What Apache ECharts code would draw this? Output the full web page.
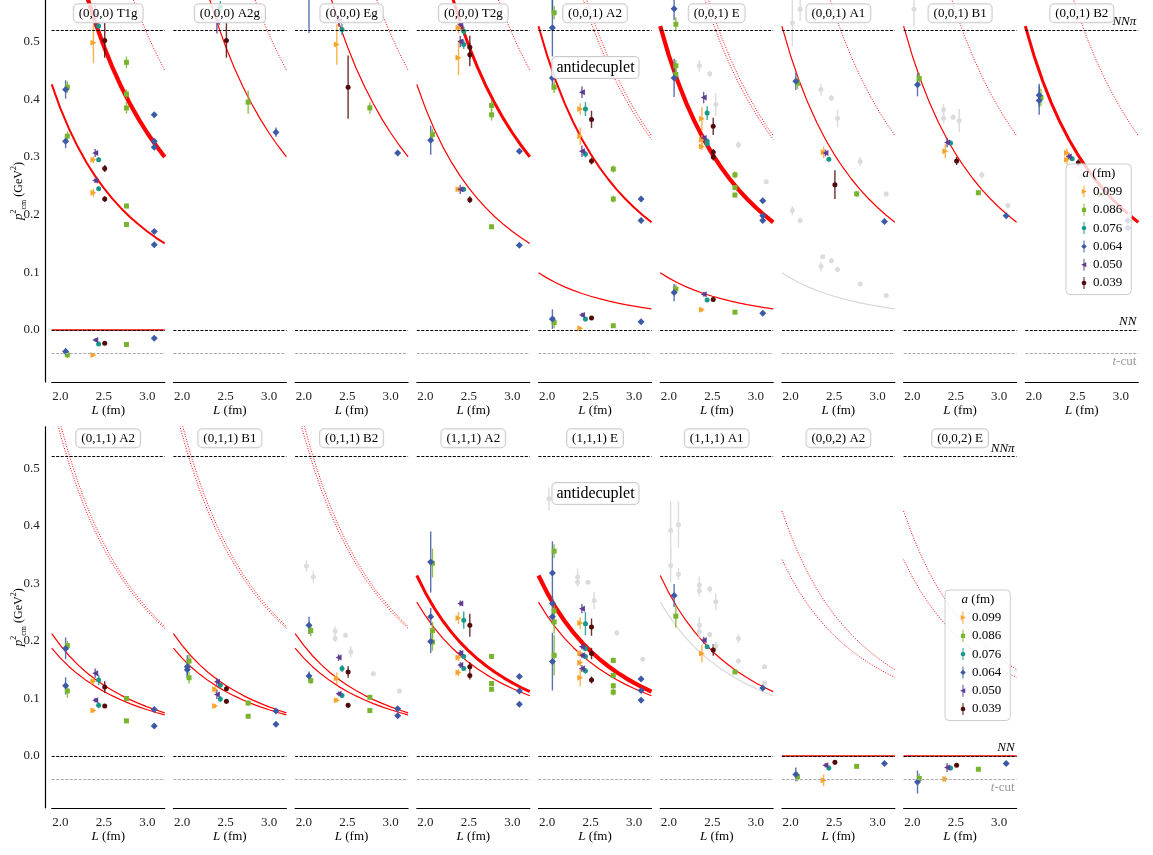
<!DOCTYPE html>
<html><head><meta charset="utf-8">
<script src="https://cdn.jsdelivr.net/npm/echarts@6/dist/echarts.min.js"></script>
<style>html,body{margin:0;padding:0;background:#fff}#c{width:1153px;height:855px}</style>
</head><body><div id="c"></div><script>
// ---------------- data ----------------
const A_LABELS = ['0.099','0.086','0.076','0.064','0.050','0.039'];
const X_TICKS = [2.0, 2.5, 3.0];
const Y_TICKS = [0.0, 0.1, 0.2, 0.3, 0.4, 0.5];
const NN_PI = 0.523, NN = 0.0, T_CUT = -0.042;
const X_RANGE = [1.9, 3.2];
const Y_RANGE = [-0.09, 0.572];

// curve sample positions L (fm)
const L_GRID = [1.9,2.0,2.1,2.2,2.3,2.4,2.5,2.6,2.7,2.8,2.9,3.0,3.1,3.2];
// non-interacting levels (GeV^2)
const Z0  = [0,0,0,0,0,0,0,0,0,0,0,0,0,0];
const R1  = [0.4257,0.3842,0.3485,0.3175,0.2905,0.2668,0.2459,0.2274,0.2108,0.1960,0.1828,0.1708,0.1599,0.1501];
const R2  = [0.8515,0.7685,0.6970,0.6351,0.5811,0.5337,0.4918,0.4547,0.4216,0.3921,0.3655,0.3415,0.3199,0.3001];
const R3  = [1.2772,1.1527,1.0455,0.9526,0.8716,0.8005,0.7377,0.6821,0.6325,0.5881,0.5483,0.5123,0.4798,0.4502];
const D1  = [0.0994,0.0900,0.0819,0.0749,0.0688,0.0634,0.0586,0.0544,0.0506,0.0472,0.0441,0.0414,0.0389,0.0366];
const D2  = [0.5266,0.4755,0.4315,0.3933,0.3601,0.3308,0.3050,0.2822,0.2618,0.2435,0.2271,0.2124,0.1990,0.1868];
const D3A = [0.9155,0.8278,0.7522,0.6866,0.6293,0.5790,0.5346,0.4951,0.4599,0.4284,0.4001,0.3746,0.3514,0.3304];
const D3B = [0.9532,0.8605,0.7807,0.7116,0.6512,0.5983,0.5514,0.5099,0.4730,0.4398,0.4101,0.3833,0.3590,0.3370];
const E1  = [0.1873,0.1701,0.1552,0.1423,0.1310,0.1210,0.1122,0.1044,0.0974,0.0911,0.0854,0.0803,0.0756,0.0714];
const E2  = [0.2128,0.1921,0.1742,0.1587,0.1452,0.1334,0.1229,0.1137,0.1054,0.0980,0.0914,0.0854,0.0800,0.0750];
const E3A = [0.6180,0.5585,0.5073,0.4628,0.4240,0.3899,0.3598,0.3333,0.3095,0.2881,0.2690,0.2517,0.2360,0.2218];
const E3B = [0.6388,0.5765,0.5229,0.4764,0.4359,0.4003,0.3690,0.3411,0.3163,0.2941,0.2742,0.2562,0.2400,0.2252];
const F1  = [0.2673,0.2433,0.2226,0.2045,0.1886,0.1747,0.1623,0.1513,0.1414,0.1325,0.1245,0.1173,0.1107,0.1047];
const F2  = [0.3137,0.2834,0.2572,0.2346,0.2148,0.1974,0.1821,0.1685,0.1564,0.1455,0.1358,0.1270,0.1190,0.1118];
const G2  = [0.3412,0.3112,0.2851,0.2625,0.2426,0.2250,0.2094,0.1955,0.1830,0.1718,0.1617,0.1525,0.1442,0.1366];

// points: [group, L (fm), p2 (GeV^2), error]; group 0..5 = a values, 6 = gray
const P_000_T1g = [[3,2.06,0.417,0.016],[3,2.06,0.327,0.012],[3,2.06,-0.037,0.006],
 [1,2.08,0.421,0.01],[1,2.08,0.336,0.008],[1,2.08,-0.043,0.005],
 [0,2.38,0.498,0.035],[0,2.38,0.295,0.006],[0,2.38,0.238,0.007],[0,2.38,-0.043,0.003],
 [4,2.40,0.545,0.02],[4,2.40,0.307,0.007],[4,2.40,0.259,0.004],[4,2.40,-0.017,0.003],
 [2,2.44,0.527,0.006],[2,2.44,0.295,0.004],[2,2.44,0.245,0.004],[2,2.44,-0.024,0.003],
 [5,2.51,0.502,0.03],[5,2.51,0.280,0.006],[5,2.51,0.227,0.005],[5,2.51,-0.023,0.003],
 [1,2.76,0.464,0.01],[1,2.76,0.409,0.008],[1,2.76,0.385,0.01],[1,2.76,0.215,0.004],[1,2.76,0.183,0.003],[1,2.76,-0.025,0.002],
 [3,3.08,0.373,0.005],[3,3.08,0.327,0.004],[3,3.08,0.317,0.004],[3,3.08,0.171,0.003],[3,3.08,0.148,0.003],[3,3.08,-0.014,0.002]];
const P_000_A2g = [[4,2.40,0.534,0.02],[2,2.44,0.56,0.01],[5,2.51,0.502,0.03],[1,2.76,0.395,0.02],[3,3.08,0.343,0.008]];
const P_000_Eg = [[3,2.06,0.60,0.085],[0,2.38,0.495,0.035],[4,2.40,0.536,0.01],[2,2.44,0.521,0.01],[5,2.51,0.421,0.055],[1,2.76,0.385,0.01],[3,3.08,0.307,0.004]];
const P_000_T2g = [[3,2.06,0.329,0.025],[1,2.08,0.339,0.01],
 [0,2.38,0.524,0.01],[0,2.38,0.472,0.03],[0,2.38,0.244,0.005],
 [4,2.40,0.529,0.008],[4,2.40,0.500,0.01],[4,2.40,0.244,0.008],
 [2,2.44,0.518,0.008],[2,2.44,0.495,0.008],[2,2.44,0.244,0.004],
 [5,2.51,0.490,0.02],[5,2.51,0.477,0.02],[5,2.51,0.226,0.006],
 [1,2.76,0.389,0.01],[1,2.76,0.373,0.01],[1,2.76,0.179,0.004],
 [3,3.08,0.310,0.004],[3,3.08,0.147,0.003]];
const P_001_A2 = [[3,2.06,0.58,0.03],[3,2.06,0.524,0.05],[3,2.06,0.437,0.02],[3,2.06,0.019,0.017],
 [1,2.08,0.550,0.012],[1,2.08,0.421,0.01],[1,2.08,0.013,0.01],
 [0,2.38,0.383,0.01],[0,2.38,0.336,0.015],[0,2.38,0.003,0.003],
 [4,2.40,0.412,0.01],[4,2.40,0.310,0.01],[4,2.40,0.026,0.004],
 [2,2.44,0.383,0.012],[2,2.44,0.305,0.006],[2,2.44,0.019,0.004],
 [5,2.51,0.365,0.015],[5,2.51,0.293,0.006],[5,2.51,0.021,0.003],
 [1,2.76,0.279,0.006],[1,2.76,0.227,0.006],[1,2.76,0.0075,0.003],
 [3,3.08,0.227,0.003],[3,3.08,0.190,0.003],[3,3.08,0.0144,0.003]];
const P_001_E = [[3,2.06,0.557,0.02],[3,2.06,0.437,0.033],[3,2.06,0.065,0.015],
 [1,2.08,0.530,0.012],[1,2.08,0.458,0.01],[1,2.08,0.443,0.01],[1,2.08,0.071,0.008],
 [0,2.38,0.366,0.02],[0,2.38,0.330,0.008],[0,2.38,0.318,0.006],[0,2.38,0.035,0.004],
 [4,2.40,0.403,0.01],[4,2.40,0.333,0.006],[4,2.40,0.062,0.004],
 [2,2.44,0.376,0.012],[2,2.44,0.327,0.005],[2,2.44,0.323,0.005],[2,2.44,0.052,0.003],
 [5,2.51,0.353,0.015],[5,2.51,0.308,0.006],[5,2.51,0.300,0.006],[5,2.51,0.053,0.003],
 [1,2.76,0.269,0.006],[1,2.76,0.247,0.004],[1,2.76,0.234,0.004],[1,2.76,0.031,0.003],
 [3,3.08,0.224,0.003],[3,3.08,0.198,0.003],[3,3.08,0.190,0.003],[3,3.08,0.029,0.002],
 [6,2.35,0.458,0.01],[6,2.47,0.444,0.005],[6,2.54,0.391,0.02],[6,2.80,0.321,0.006],[6,3.12,0.257,0.004]];
const P_001_A1 = [[3,2.06,0.431,0.015],[1,2.08,0.428,0.01],[0,2.38,0.308,0.01],[4,2.40,0.307,0.006],[2,2.44,0.296,0.004],[5,2.51,0.252,0.025],[1,2.76,0.236,0.005],[3,3.08,0.188,0.003],
 [6,2.02,0.532,0.04],[6,2.11,0.556,0.02],[6,2.02,0.207,0.008],[6,2.11,0.190,0.005],[6,2.35,0.417,0.01],[6,2.47,0.402,0.005],[6,2.54,0.367,0.015],[6,2.80,0.292,0.008],[6,3.10,0.236,0.004],
 [6,2.35,0.110,0.008],[6,2.37,0.127,0.004],[6,2.47,0.120,0.004],[6,2.54,0.105,0.004],[6,2.80,0.080,0.003],[6,3.10,0.060,0.003]];
const P_001_B1 = [[3,2.06,0.425,0.02],[1,2.08,0.436,0.01],[0,2.38,0.310,0.012],[4,2.40,0.325,0.008],[2,2.44,0.324,0.004],[5,2.51,0.293,0.007],[1,2.76,0.238,0.004],[3,3.08,0.198,0.003],
 [6,2.02,0.556,0.03],[6,2.36,0.382,0.01],[6,2.36,0.367,0.01],[6,2.47,0.369,0.004],[6,2.54,0.363,0.02],[6,2.80,0.269,0.006],[6,3.10,0.216,0.004]];
const P_001_B2 = [[3,2.06,0.407,0.02],[3,2.06,0.398,0.025],[1,2.08,0.403,0.015],[0,2.38,0.307,0.008],[0,2.38,0.295,0.008],[4,2.40,0.301,0.006],[2,2.44,0.297,0.004],[5,2.51,0.29,0.006],[1,2.76,0.235,0.004],[3,3.08,0.19,0.003],[3,3.08,0.177,0.003],
 [6,2.54,0.266,0.01],[6,2.80,0.235,0.006],[6,3.10,0.2,0.004]];
const P_011_A2 = [[3,2.06,0.187,0.019],[3,2.06,0.122,0.015],[1,2.08,0.192,0.008],[1,2.08,0.113,0.012],
 [0,2.38,0.130,0.006],[0,2.38,0.079,0.004],[4,2.40,0.144,0.008],[4,2.40,0.097,0.004],
 [2,2.44,0.132,0.009],[2,2.44,0.088,0.005],[5,2.51,0.120,0.01],[5,2.51,0.087,0.003],
 [1,2.76,0.100,0.004],[1,2.76,0.061,0.003],[3,3.08,0.081,0.003],[3,3.08,0.052,0.003]];
const P_011_B1 = [[3,2.06,0.155,0.02],[3,2.06,0.150,0.012],[1,2.08,0.165,0.012],[1,2.08,0.136,0.01],
 [0,2.38,0.116,0.006],[0,2.38,0.087,0.004],[4,2.40,0.129,0.007],[4,2.40,0.107,0.008],
 [2,2.44,0.123,0.004],[2,2.44,0.099,0.005],[5,2.51,0.117,0.004],[5,2.51,0.095,0.004],
 [1,2.76,0.092,0.004],[1,2.76,0.069,0.003],[3,3.08,0.078,0.003],[3,3.08,0.055,0.003]];
const P_011_B2 = [[3,2.06,0.227,0.015],[3,2.06,0.139,0.008],[1,2.08,0.218,0.01],[1,2.08,0.131,0.006],
 [0,2.38,0.135,0.01],[0,2.38,0.097,0.004],[4,2.40,0.171,0.006],[4,2.40,0.108,0.004],
 [2,2.44,0.152,0.006],[2,2.44,0.105,0.003],[5,2.51,0.146,0.01],[5,2.51,0.088,0.004],
 [1,2.76,0.102,0.003],[1,2.76,0.079,0.003],[3,3.08,0.082,0.003],[3,3.08,0.070,0.003],
 [6,2.03,0.330,0.01],[6,2.11,0.311,0.01],[6,2.36,0.217,0.008],[6,2.36,0.204,0.006],[6,2.48,0.210,0.004],[6,2.54,0.181,0.01],[6,2.80,0.143,0.004],[6,3.10,0.113,0.003]];
const P_111_A2 = [[3,2.06,0.337,0.053],[3,2.06,0.242,0.015],[3,2.06,0.199,0.02],
 [1,2.08,0.335,0.025],[1,2.08,0.218,0.015],[1,2.08,0.198,0.015],
 [0,2.38,0.240,0.01],[0,2.38,0.171,0.006],[0,2.38,0.145,0.006],
 [4,2.40,0.265,0.005],[4,2.40,0.179,0.005],[4,2.40,0.158,0.005],
 [2,2.44,0.236,0.015],[2,2.44,0.173,0.004],[2,2.44,0.152,0.004],
 [5,2.51,0.227,0.02],[5,2.51,0.155,0.008],[5,2.51,0.140,0.007],
 [1,2.76,0.173,0.004],[1,2.76,0.126,0.004],[1,2.76,0.116,0.004],
 [3,3.08,0.138,0.003],[3,3.08,0.113,0.003],[3,3.08,0.090,0.003]];
const P_111_E = [[3,2.06,0.318,0.055],[3,2.06,0.265,0.012],[3,2.06,0.242,0.012],[3,2.06,0.164,0.05],
 [1,2.08,0.356,0.012],[1,2.08,0.252,0.01],[1,2.08,0.233,0.02],[1,2.08,0.175,0.035],
 [0,2.38,0.231,0.01],[0,2.38,0.178,0.006],[0,2.38,0.162,0.006],[0,2.38,0.136,0.015],
 [4,2.40,0.256,0.008],[4,2.40,0.190,0.005],[4,2.40,0.175,0.005],[4,2.40,0.152,0.006],
 [2,2.44,0.230,0.02],[2,2.44,0.187,0.005],[2,2.44,0.173,0.004],[2,2.44,0.148,0.005],
 [5,2.51,0.224,0.015],[5,2.51,0.178,0.01],[5,2.51,0.132,0.006],
 [1,2.76,0.166,0.005],[1,2.76,0.140,0.004],[1,2.76,0.122,0.005],[1,2.76,0.111,0.006],
 [3,3.08,0.134,0.003],[3,3.08,0.114,0.003],[3,3.08,0.097,0.003],
 [6,2.02,0.447,0.02],[6,2.35,0.311,0.015],[6,2.35,0.302,0.008],[6,2.47,0.302,0.004],[6,2.54,0.270,0.015],[6,2.80,0.214,0.005],[6,3.10,0.168,0.003]];
const P_111_A1 = [[3,2.06,0.279,0.02],[1,2.08,0.243,0.02],[0,2.38,0.178,0.015],[4,2.40,0.201,0.006],[2,2.44,0.190,0.003],[5,2.51,0.184,0.01],[1,2.76,0.146,0.003],[3,3.08,0.118,0.003],
 [6,2.02,0.392,0.05],[6,2.02,0.331,0.03],[6,2.11,0.402,0.04],[6,2.11,0.316,0.01],[6,2.35,0.297,0.015],[6,2.35,0.287,0.01],[6,2.35,0.227,0.015],[6,2.35,0.216,0.01],[6,2.47,0.290,0.006],[6,2.47,0.211,0.005],[6,2.54,0.268,0.015],[6,2.54,0.191,0.008],[6,2.80,0.204,0.008],[6,2.80,0.165,0.004],[6,3.10,0.155,0.004],[6,3.10,0.127,0.003]];
const P_002_A2 = [[3,2.06,-0.032,0.012],[1,2.08,-0.036,0.008],[0,2.38,-0.042,0.01],[4,2.40,-0.016,0.004],[2,2.44,-0.021,0.004],[5,2.51,-0.011,0.004],[1,2.76,-0.018,0.002],[3,3.08,-0.013,0.002]];
const P_002_E = [[3,2.06,-0.045,0.02],[1,2.08,-0.039,0.008],[0,2.38,-0.040,0.005],[4,2.40,-0.020,0.008],[2,2.44,-0.021,0.004],[5,2.51,-0.016,0.003],[1,2.76,-0.023,0.002],[3,3.08,-0.013,0.002]];

// ---------------- styles ----------------
const FONT = "'Liberation Serif','DejaVu Serif',serif";
const GROUPS = [
  {color:'#f8a42c', symbol:'triangle', rotate:-90, size:6},
  {color:'#79b42f', symbol:'rect', rotate:0, size:5},
  {color:'#16988a', symbol:'circle', rotate:0, size:5},
  {color:'#3d5aa6', symbol:'diamond', rotate:0, size:7},
  {color:'#5e3c93', symbol:'triangle', rotate:90, size:6},
  {color:'#520a0a', symbol:'circle', rotate:0, size:5},
  {color:'#dcdcdc', symbol:'circle', rotate:0, size:5}
];
const EXT = 'M0,7.5 L0.01,7.5 L0.01,7.51 Z M10,7.5 L9.99,7.5 L9.99,7.51 Z ';
const BAR = 'M4.4,0 L5.6,0 L5.6,15 L4.4,15 Z ';
const ICONS = [
  'M2.2,4.3 L8.6,7.5 L2.2,10.7 Z',
  'M2.4,4.9 L7.6,4.9 L7.6,10.1 L2.4,10.1 Z',
  'M5,4.5 L7.1,5.4 L8,7.5 L7.1,9.6 L5,10.5 L2.9,9.6 L2,7.5 L2.9,5.4 Z',
  'M5,3.8 L8.4,7.5 L5,11.2 L1.6,7.5 Z',
  'M7.8,4.3 L7.8,10.7 L1.4,7.5 Z',
  'M5,4.5 L7.1,5.4 L8,7.5 L7.1,9.6 L5,10.5 L2.9,9.6 L2,7.5 L2.9,5.4 Z'
].map(s => 'path://' + EXT + BAR + s);
const CS = {
  zero:{color:'#ff0000', width:1.5, type:'solid'},
  thin:{color:'#ff0000', width:1.2, type:'solid'},
  med:{color:'#ff0000', width:2, type:'solid'},
  thick:{color:'#ff0000', width:3, type:'solid'},
  thick4:{color:'#ff0000', width:4.2, type:'solid'},
  dot:{color:'#ff0000', width:1, type:[1,1.6]},
  gray:{color:'#d8d8d8', width:1.2, type:'solid'}
};

const PANELS = [
  {t:'(0,0,0) T1g', pts:P_000_T1g, c:[[Z0,'zero'],[R1,'med'],[R2,'thick4'],[R3,'dot']]},
  {t:'(0,0,0) A2g', pts:P_000_A2g, c:[[R2,'thin'],[R3,'dot']]},
  {t:'(0,0,0) Eg', pts:P_000_Eg, c:[[R2,'thin'],[R3,'dot']]},
  {t:'(0,0,0) T2g', pts:P_000_T2g, c:[[R1,'thin'],[R2,'thick'],[R3,'dot']]},
  {t:'(0,0,1) A2', pts:P_001_A2, c:[[D1,'thin'],[D2,'med'],[D3A,'dot'],[D3B,'dot']], anti:true},
  {t:'(0,0,1) E', pts:P_001_E, c:[[D1,'thin'],[D2,'thick4'],[D3A,'dot'],[D3B,'dot']]},
  {t:'(0,0,1) A1', pts:P_001_A1, c:[[D1,'gray'],[D2,'thin'],[D3B,'dot']]},
  {t:'(0,0,1) B1', pts:P_001_B1, c:[[D2,'thin'],[D3B,'dot']]},
  {t:'(0,0,1) B2', pts:P_001_B2, c:[[D2,'thick'],[D3B,'dot']], last:true},
  {t:'(0,1,1) A2', pts:P_011_A2, c:[[E1,'thin'],[E2,'thin'],[E3A,'dot'],[E3B,'dot']]},
  {t:'(0,1,1) B1', pts:P_011_B1, c:[[E1,'thin'],[E2,'thin'],[E3A,'dot'],[E3B,'dot']]},
  {t:'(0,1,1) B2', pts:P_011_B2, c:[[E1,'thin'],[E2,'thin'],[E3A,'dot'],[E3B,'dot']]},
  {t:'(1,1,1) A2', pts:P_111_A2, c:[[F1,'thin'],[F2,'thick']]},
  {t:'(1,1,1) E', pts:P_111_E, c:[[F1,'thin'],[F2,'thick4']], anti:true},
  {t:'(1,1,1) A1', pts:P_111_A1, c:[[F1,'gray'],[F2,'thin']]},
  {t:'(0,0,2) A2', pts:P_002_A2, c:[[Z0,'zero'],[R1,'dot'],[G2,'dot']]},
  {t:'(0,0,2) E', pts:P_002_E, c:[[Z0,'zero'],[R1,'dot'],[G2,'dot']], last:true}
];

// ---------------- build ----------------
const grids=[], xAxes=[], yAxes=[], series=[], graphics=[];
const PW = 113, STEP = 121.7, LEFT0 = 51.7;
PANELS.forEach((p,i)=>{
  const row = i < 9 ? 0 : 1, col = row ? i-9 : i;
  const left = LEFT0 + STEP*col;
  const top = row ? 426.8 : 0, height = row ? 381 : 382;
  grids.push({left:left, top:top, width:PW, height:height});
  xAxes.push({gridIndex:i, type:'value', min:X_RANGE[0], max:X_RANGE[1],
    axisLine:{show:true, onZero:false, lineStyle:{color:'#000', width:1.2}},
    axisTick:{show:false}, splitLine:{show:false},
    axisLabel:{customValues:X_TICKS, formatter:v=>v.toFixed(1), fontFamily:FONT, fontSize:13, color:'#222', margin:8},
    name:'{i|L} (fm)', nameLocation:'middle', nameGap:22, nameMoveOverlap:false,
    nameTextStyle:{fontFamily:FONT, fontSize:13, color:'#000', rich:{i:{fontFamily:FONT, fontSize:13, fontStyle:'italic', color:'#000'}}}
  });
  yAxes.push({gridIndex:i, type:'value', min:Y_RANGE[0], max:Y_RANGE[1], show: col===0, offset:6,
    axisLine:{show:true, onZero:false, lineStyle:{color:'#000', width:1.2}},
    axisTick:{show:false}, splitLine:{show:false},
    axisLabel:{customValues:Y_TICKS, formatter:v=>v.toFixed(1), fontFamily:FONT, fontSize:13, color:'#222', margin:6},
    name:'{i|p}{sup|2}{sub|cm} (GeV{sup|2})', nameLocation:'middle', nameGap:18, nameRotate:90, nameMoveOverlap:false,
    nameTextStyle:{fontFamily:FONT, fontSize:12, color:'#000', lineHeight:18, rich:{
      i:{fontFamily:FONT, fontSize:13, fontStyle:'italic', color:'#000', lineHeight:18},
      sup:{fontFamily:FONT, fontSize:8, color:'#000', verticalAlign:'top', lineHeight:9},
      sub:{fontFamily:FONT, fontSize:8, color:'#000', verticalAlign:'bottom', lineHeight:9}}}
  });
  // reference lines
  const lbl = (fmt, pos, col, dist)=>({show:!!p.last, formatter:fmt, position:pos, distance:dist,
     rich:{i:{fontFamily:FONT, fontSize:13, fontStyle:'italic', color:col}, n:{fontFamily:FONT, fontSize:13, color:col}}});
  series.push({type:'line', xAxisIndex:i, yAxisIndex:i, data:[], silent:true, z:3, symbol:'none',
    markLine:{silent:true, symbol:['none','none'], animation:false, data:[
      {yAxis:NN_PI, lineStyle:{color:'#000', type:[3,1.5], width:1}, label:lbl('{i|NNπ}','insideEndTop','#000',2)},
      {yAxis:NN, lineStyle:{color:'#000', type:[3,1.5], width:1}, label:lbl('{i|NN}','insideEndTop','#000',2)},
      {yAxis:T_CUT, lineStyle:{color:'#aaaaaa', type:[3,1.5], width:1}, label:lbl('{i|t}{n|-cut}','insideEndBottom','#999',2)}
    ]}});
  // curves
  p.c.forEach(([arr, st])=>{
    const s = CS[st];
    series.push({type:'line', xAxisIndex:i, yAxisIndex:i, silent:true, z:2, showSymbol:false, symbol:'none',
      smooth:false, clip:true,
      lineStyle:{color:s.color, width:s.width, type:s.type, join:'round'},
      data:L_GRID.map((x,k)=>[x, arr[k]])});
  });
  // error bars
  series.push({type:'custom', xAxisIndex:i, yAxisIndex:i, silent:true, z:3, clip:true,
    data:p.pts.map(q=>[q[1], q[2], q[3], q[0]]),
    renderItem:(params, api)=>{
      const x=api.value(0), y=api.value(1), e=api.value(2), g=api.value(3);
      const a=api.coord([x, y-e]), b=api.coord([x, y+e]);
      return {type:'line', shape:{x1:a[0], y1:a[1], x2:b[0], y2:b[1]},
        style:{stroke:GROUPS[g].color, lineWidth:1.4, opacity: g===6 ? 1 : 0.85}};
    }});
  // points
  GROUPS.forEach((g,gi)=>{
    const d = p.pts.filter(q=>q[0]===gi).map(q=>[q[1], q[2]]);
    if(!d.length) return;
    series.push({type:'scatter', name: gi<6 ? A_LABELS[gi] : 'other', xAxisIndex:i, yAxisIndex:i, silent:true,
      z: gi===6 ? 3 : 4, clip:true, symbol:g.symbol, symbolRotate:g.rotate, symbolSize:g.size,
      itemStyle:{color:g.color, opacity:1}, data:d});
  });
  // panel title box
  const cx = left + PW/2;
  graphics.push({type:'text', x:cx, y: row ? 438.3 : 13.3, z:100, silent:true,
    style:{text:p.t, font:'13px '+FONT, fill:'#000', align:'center', verticalAlign:'middle',
      textAlign:'center', textVerticalAlign:'middle',
      backgroundColor:'rgba(255,255,255,0.8)', borderColor:'#cccccc', borderWidth:1, borderRadius:4, padding:[3,5,2,5]}});
  if(p.anti){
    graphics.push({type:'text', x:595.5, y: row ? 493.5 : 67.5, z:100, silent:true,
      style:{text:'antidecuplet', font:'16px '+FONT, fill:'#000', align:'center', verticalAlign:'middle',
        textAlign:'center', textVerticalAlign:'middle',
        backgroundColor:'rgba(255,255,255,0.8)', borderColor:'#cccccc', borderWidth:1, borderRadius:4, padding:[3,4,2,4]}});
  }
});

const legendBase = {orient:'vertical', selectedMode:false, itemWidth:8, itemHeight:12, itemGap:5.3,
  padding:[21,9,5,14], backgroundColor:'rgba(255,255,255,0.8)', borderColor:'#cccccc', borderWidth:1, borderRadius:4,
  textStyle:{fontFamily:FONT, fontSize:13, color:'#000'},
  data:A_LABELS.map((n,k)=>({name:n, icon:ICONS[k], itemStyle:{color:GROUPS[k].color}}))};
const legends = [Object.assign({}, legendBase, {left:1066, top:164, z:10}),
                 Object.assign({}, legendBase, {left:945, top:590, z:10})];
[[1099,174],[978,600]].forEach(([x,y])=>{
  graphics.push({type:'text', x:x, y:y, z:110, silent:true,
    style:{text:'{i|a} (fm)', font:'13px '+FONT, fill:'#000', align:'center', verticalAlign:'middle',
      textAlign:'center', textVerticalAlign:'middle',
      rich:{i:{fontFamily:FONT, fontSize:13, fontStyle:'italic', fill:'#000', color:'#000'}}}});
});

const chart = echarts.init(document.getElementById('c'), null, {renderer:'canvas'});
chart.setOption({animation:false, backgroundColor:'#fff', grid:grids, xAxis:xAxes, yAxis:yAxes,
  legend:legends, series:series, graphic:{elements:graphics}});
</script></body></html>
